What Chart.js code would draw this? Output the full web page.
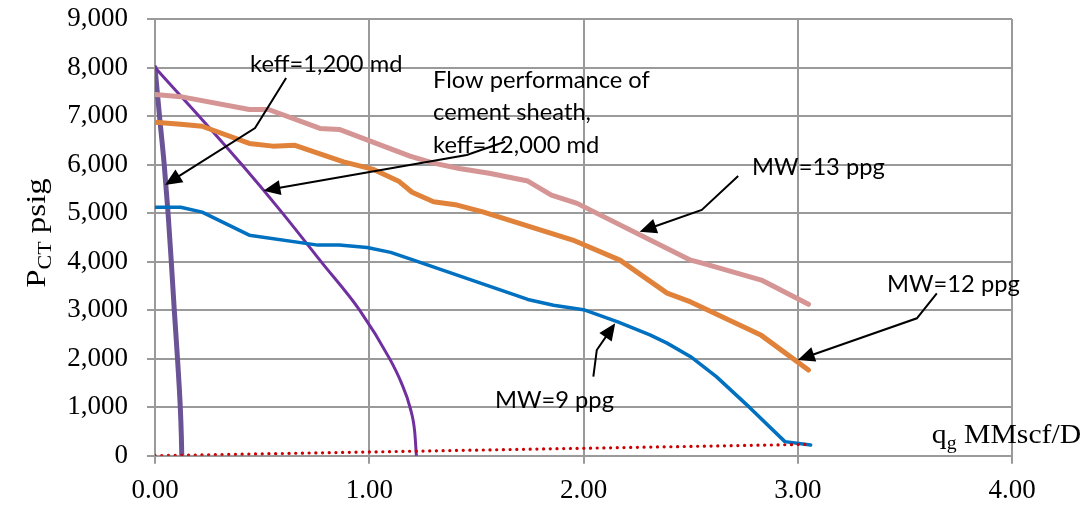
<!DOCTYPE html>
<html>
<head>
<meta charset="utf-8">
<script src="https://cdn.jsdelivr.net/npm/chart.js@4/dist/chart.umd.min.js"></script>
<style>
  html, body { margin: 0; padding: 0; background: #fff; }
  #wrap { width: 1083px; height: 508px; }
</style>
</head>
<body>
<div id="wrap"><canvas id="c" width="1083" height="508"></canvas></div>
<script>
// Casing pressure P_CT (psig) against gas rate q_g (MMscf/D)

// Mud weight 13 ppg
const mw13Rate = [0, 0.12, 0.44, 0.53, 0.77, 0.86, 1.19, 1.30, 1.42, 1.56, 1.74, 1.85, 1.97, 2.50, 2.55, 2.83, 3.05];
const mw13Pres = [7445, 7400, 7135, 7135, 6745, 6725, 6175, 6030, 5920, 5820, 5660, 5370, 5200, 4030, 3975, 3620, 3120];

// Mud weight 12 ppg
const mw12Rate = [0, 0.12, 0.22, 0.44, 0.55, 0.65, 0.88, 1.02, 1.14, 1.20, 1.30, 1.41, 1.53, 1.95, 2.17, 2.39, 2.50, 2.83, 3.05];
const mw12Pres = [6870, 6830, 6790, 6435, 6380, 6400, 6055, 5900, 5650, 5430, 5235, 5165, 5025, 4445, 4030, 3350, 3170, 2480, 1765];

// Mud weight 9 ppg
const mw9Rate = [0, 0.12, 0.22, 0.44, 0.76, 0.86, 0.99, 1.10, 1.20, 1.74, 1.86, 2.00, 2.16, 2.31, 2.39, 2.50, 2.62, 2.78, 2.94, 3.06];
const mw9Pres = [5120, 5120, 5020, 4545, 4340, 4340, 4290, 4190, 4040, 3220, 3100, 3010, 2760, 2490, 2320, 2040, 1630, 975, 290, 220];

// Cement sheath inflow, keff = 1,200 md
const sheath1200Rate = [0, 0.021, 0.043, 0.061, 0.076, 0.090, 0.105, 0.118, 0.123, 0.125];
const sheath1200Pres = [8000, 7000, 6000, 5000, 4000, 3000, 2000, 1000, 400, 0];

// Cement sheath inflow, keff = 12,000 md
const sheath12000Rate = [0, 0.205, 0.405, 0.595, 0.775, 0.955, 1.095, 1.15, 1.19, 1.212, 1.22];
const sheath12000Pres = [8000, 7000, 6000, 5000, 4000, 3000, 2000, 1500, 1000, 500, 0];

// Surface back-pressure line
const backRate = [0, 3.06];
const backPres = [0, 235];

// Axis ticks
const rateTicks = [0, 1, 2, 3, 4];
const presTicks = [0, 1000, 2000, 3000, 4000, 5000, 6000, 7000, 8000, 9000];

// Callout labels with leader arrows, anchored in data units (rate, pressure)
const callouts = [
  { text: ['keff=1,200 md'], at: [0.4435, 7908],
    arrow: [[0.612, 7784], [0.467, 6754], [0.047, 5579]] },
  { text: ['Flow performance of', 'cement sheath,', 'keff=12,000 md'], at: [1.298, 7578],
    arrow: [[1.634, 6471], [1.455, 6197], [0.506, 5462]] },
  { text: ['MW=13 ppg'], at: [2.787, 5785],
    arrow: [[2.722, 5765], [2.552, 5064], [2.262, 4617]] },
  { text: ['MW=12 ppg'], at: [3.417, 3380],
    arrow: [[3.649, 3347], [3.556, 2832], [3.0, 1972]] },
  { text: ['MW=9 ppg'], at: [1.587, 977],
    arrow: [[2.046, 1628], [2.062, 2178], [2.148, 2729]] }
];

const zip = (xs, ys) => xs.map((v, i) => ({ x: v, y: ys[i] }));

const SERIF = '"Liberation Serif", "Times New Roman", serif';
const SANS = 'Lato, "Open Sans", sans-serif';
const TICK_SIZE = 27;

// Draws runs of text with optional subscript parts
function drawRuns(ctx, runs, x0, y0) {
  let x = x0;
  for (const r of runs) {
    ctx.font = r.size + 'px ' + SERIF;
    ctx.fillText(r.t, x, y0 + (r.dy || 0));
    x += ctx.measureText(r.t).width;
  }
}
function runsWidth(ctx, runs) {
  let w = 0;
  for (const r of runs) { ctx.font = r.size + 'px ' + SERIF; w += ctx.measureText(r.t).width; }
  return w;
}

const annotate = {
  id: 'annotate',
  afterDatasetsDraw(chart) {
    const { ctx } = chart;
    const xs = chart.scales.x, ys = chart.scales.y;
    ctx.save();
    ctx.fillStyle = '#000';
    ctx.strokeStyle = '#000';
    ctx.textAlign = 'left';
    ctx.textBaseline = 'alphabetic';

    for (const c of callouts) {
      ctx.font = '23.7px ' + SANS;
      const tx = xs.getPixelForValue(c.at[0]);
      const ty = ys.getPixelForValue(c.at[1]);
      c.text.forEach((line, i) => ctx.fillText(line, tx, ty + i * 32.5));

      const pts = c.arrow.map(([q, p]) => [xs.getPixelForValue(q), ys.getPixelForValue(p)]);
      const [ax, ay] = pts[pts.length - 2];
      const [bx, by] = pts[pts.length - 1];
      const ang = Math.atan2(by - ay, bx - ax);
      const L = 17, W = 7.5;
      const cos = Math.cos(ang), sin = Math.sin(ang);
      ctx.lineWidth = 2;
      ctx.lineJoin = 'miter';
      ctx.beginPath();
      ctx.moveTo(pts[0][0], pts[0][1]);
      for (let i = 1; i < pts.length - 1; i++) ctx.lineTo(pts[i][0], pts[i][1]);
      ctx.lineTo(bx - (L - 2) * cos, by - (L - 2) * sin);
      ctx.stroke();
      ctx.beginPath();
      ctx.moveTo(bx, by);
      ctx.lineTo(bx - L * cos + W * sin, by - L * sin - W * cos);
      ctx.lineTo(bx - L * cos - W * sin, by - L * sin + W * cos);
      ctx.closePath();
      ctx.fill();
    }

    // x-axis caption inside the plot, q_g MMscf/D
    const qx = xs.getPixelForValue(3.626), qy = ys.getPixelForValue(255);
    ctx.save();
    ctx.translate(qx, qy);
    ctx.scale(1.1, 1);
    drawRuns(ctx, [
      { t: 'q', size: 27 },
      { t: 'g', size: 18, dy: 6 },
      { t: ' MMscf/D', size: 27 }
    ], 0, 0);
    ctx.restore();

    // y-axis caption, P_CT psig, rotated
    const yRuns = [
      { t: 'P', size: 27 },
      { t: 'CT', size: 18, dy: 6 },
      { t: ' psig', size: 27 }
    ];
    const w = runsWidth(ctx, yRuns);
    ctx.translate(45, 233);
    ctx.rotate(-Math.PI / 2);
    ctx.scale(1.22, 1);
    drawRuns(ctx, yRuns, -w / 2, 0);
    ctx.restore();
  }
};

function build() {
  const gridColor = '#9a9a9a';
  new Chart(document.getElementById('c'), {
    type: 'scatter',
    data: {
      datasets: [
        { label: 'Back pressure', data: zip(backRate, backPres), showLine: true,
          borderColor: '#cc0000', borderWidth: 3.2, borderDash: [0.1, 6.6], borderCapStyle: 'round',
          pointRadius: 0 },
        { label: 'MW=9 ppg', data: zip(mw9Rate, mw9Pres), showLine: true,
          borderColor: '#0070c0', borderWidth: 3.5, borderJoinStyle: 'round', borderCapStyle: 'round',
          pointRadius: 0 },
        { label: 'MW=12 ppg', data: zip(mw12Rate, mw12Pres), showLine: true,
          borderColor: '#e0823a', borderWidth: 5, borderJoinStyle: 'round', borderCapStyle: 'round',
          pointRadius: 0 },
        { label: 'MW=13 ppg', data: zip(mw13Rate, mw13Pres), showLine: true,
          borderColor: '#d59594', borderWidth: 5, borderJoinStyle: 'round', borderCapStyle: 'round',
          pointRadius: 0 },
        { label: 'keff=12,000 md', data: zip(sheath12000Rate, sheath12000Pres), showLine: true,
          borderColor: '#7030a0', borderWidth: 3, cubicInterpolationMode: 'monotone',
          borderCapStyle: 'round', pointRadius: 0 },
        { label: 'keff=1,200 md', data: zip(sheath1200Rate, sheath1200Pres), showLine: true,
          borderColor: '#6b5495', borderWidth: 5, cubicInterpolationMode: 'monotone',
          borderCapStyle: 'round', pointRadius: 0 }
      ]
    },
    options: {
      responsive: false,
      animation: false,
      events: [],
      layout: { padding: { top: 19, right: 71, left: 0, bottom: 0 } },
      plugins: { legend: { display: false }, tooltip: { enabled: false } },
      scales: {
        x: {
          type: 'linear', min: rateTicks[0], max: rateTicks[rateTicks.length - 1],
          afterBuildTicks: s => { s.ticks = rateTicks.map(v => ({ value: v })); },
          afterFit: s => { s.height = 52.3; s.paddingLeft = 0; s.paddingRight = 0; },
          grid: { color: gridColor, lineWidth: 2, tickLength: 8, drawTicks: true },
          border: { color: gridColor, width: 2 },
          ticks: { color: '#000', padding: 11, maxRotation: 0,
            font: { family: SERIF, size: TICK_SIZE },
            callback: v => Number(v).toFixed(2) }
        },
        y: {
          type: 'linear', min: presTicks[0], max: presTicks[presTicks.length - 1],
          afterBuildTicks: s => { s.ticks = presTicks.map(v => ({ value: v })); },
          afterFit: s => { s.width = 155; s.paddingTop = 0; s.paddingBottom = 0; },
          grid: { color: gridColor, lineWidth: 2, tickLength: 8, drawTicks: true },
          border: { color: gridColor, width: 2 },
          ticks: { color: '#000', padding: 19,
            font: { family: SERIF, size: TICK_SIZE },
            callback: v => Number(v).toLocaleString('en-US') }
        }
      }
    },
    plugins: [annotate]
  });
}

const fontsReady = document.fonts
  ? Promise.all([
      document.fonts.load('23px Lato'),
      document.fonts.load('26px "Liberation Serif"')
    ]).catch(() => {})
  : Promise.resolve();
fontsReady.then(build);
</script>
</body>
</html>
